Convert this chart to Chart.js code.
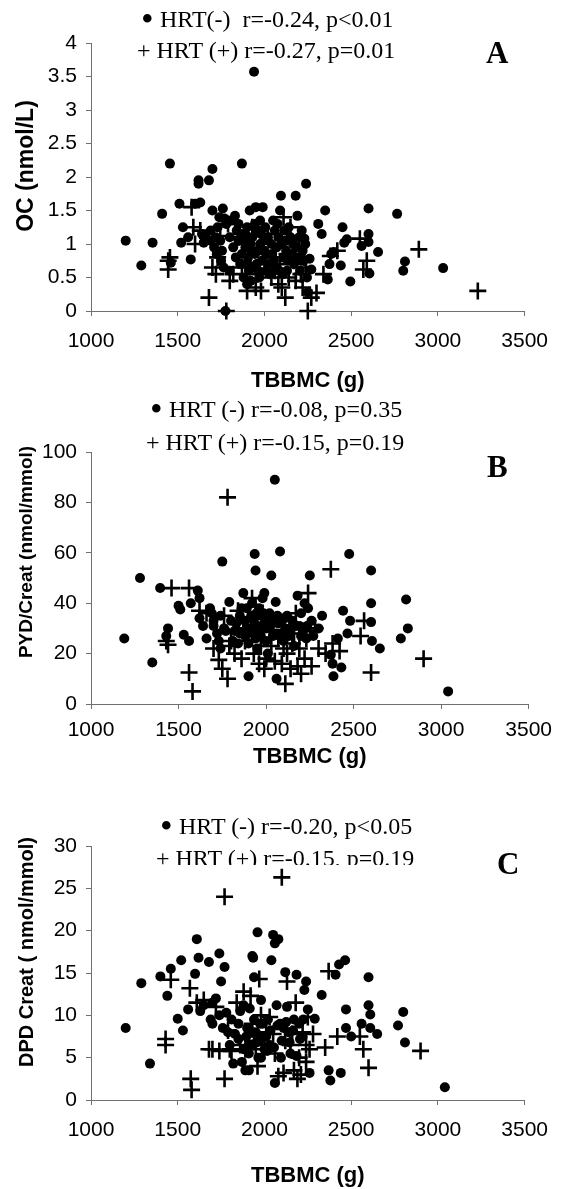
<!DOCTYPE html>
<html><head><meta charset="utf-8">
<script src="https://cdn.jsdelivr.net/npm/chart.js@4.4.0/dist/chart.umd.min.js"></script>
<style>
html,body{margin:0;padding:0;background:#fff;}
body{width:561px;height:1189px;position:relative;overflow:hidden;}
canvas{position:absolute;left:0;}
.leg{position:absolute;font-family:"Liberation Serif","Times New Roman",serif;font-size:24px;line-height:24px;white-space:pre;color:#000;}
.bul{display:inline-block;width:12px;font-size:36px;line-height:0;position:relative;top:4px;left:-1px;}
.clip{position:absolute;overflow:hidden;left:0;width:561px;}
.let{position:absolute;font-family:"Liberation Serif","Times New Roman",serif;font-weight:bold;font-size:31px;line-height:30px;color:#000;}
</style></head><body>
<canvas id="cA" width="561" height="400" style="top:0px"></canvas>
<canvas id="cB" width="561" height="400" style="top:380px"></canvas>
<canvas id="cC" width="561" height="409" style="top:780px"></canvas>
<div id="legends"></div>
<script>
// ---------- data ----------
const xTicks = [1000, 1500, 2000, 2500, 3000, 3500];
const yTicksA = [0, 0.5, 1, 1.5, 2, 2.5, 3, 3.5, 4];
const yTicksB = [0, 20, 40, 60, 80, 100];
const yTicksC = [0, 5, 10, 15, 20, 25, 30];
const xTitle = "TBBMC (g)";
const yTitleA = "OC (nmol/L)";
const yTitleB = "PYD/Creat (nmol/mmol)";
const yTitleC = "DPD Creat ( nmol/mmol)";
const legendA = ["\u2022 HRT(-)  r=-0.24, p<0.01", "+ HRT (+) r=-0.27, p=0.01"];
const legendB = ["\u2022 HRT (-) r=-0.08, p=0.35", "+ HRT (+) r=-0.15, p=0.19"];
const legendC = ["\u2022 HRT (-) r=-0.20, p<0.05", "+ HRT (+) r=-0.15, p=0.19"];
const panelLetters = ["A", "B", "C"];

// Panel A: OC (nmol/L) vs TBBMC
const ocHrtNeg = [[1200,1.05],[1290,0.68],[1355,1.02],[1410,1.45],[1455,2.2],[1460,0.72],[1510,1.6],[1530,1.25],[1520,1.02],[1560,1.1],[1575,0.77],[1600,1.6],[1620,1.95],[1620,1.9],[1630,1.62],[1640,1.15],[1650,1.02],[1680,1.95],[1690,1.2],[1700,2.12],[1700,1.5],[1720,1.1],[1740,1.4],[1750,0.75],[1755,0.9],[1760,1.53],[1765,0.65],[1770,1.38],[1775,0.0],[1780,1.3],[1800,1.1],[1830,1.42],[1850,1.3],[1860,0.7],[1870,2.2],[1880,1.05],[1890,0.95],[1900,1.25],[1910,0.6],[1915,1.5],[1920,0.45],[1930,1.1],[1940,3.57],[1945,0.85],[1950,1.55],[1955,0.7],[1960,1.2],[1970,0.5],[1975,1.0],[1980,1.15],[1990,1.55],[2000,0.9],[2010,0.6],[2020,1.1],[2030,0.55],[2050,1.35],[2055,0.75],[2060,1.2],[2070,0.95],[2090,1.5],[2095,1.72],[2100,1.0],[2110,0.8],[2120,1.05],[2130,0.6],[2150,1.1],[2160,0.85],[2180,1.72],[2190,1.42],[2200,1.1],[2210,0.75],[2220,0.9],[2230,1.08],[2240,1.9],[2245,0.5],[2250,0.28],[2260,0.78],[2270,0.62],[2310,1.3],[2330,1.15],[2350,1.5],[2365,0.47],[2375,0.7],[2385,0.85],[2400,0.88],[2440,0.68],[2450,1.25],[2460,1.02],[2475,1.07],[2495,0.44],[2560,0.97],[2600,1.53],[2600,1.15],[2600,1.03],[2605,0.56],[2655,0.88],[2765,1.45],[2800,0.6],[2810,0.74],[3030,0.64],[1820,0.95],[1840,1.2],[1870,0.85],[1890,1.15],[1905,0.8],[1920,1.0],[1935,0.65],[1960,0.9],[1985,0.75],[1995,1.05],[2015,0.85],[2040,1.0],[2065,0.65],[2080,1.1],[2105,0.55],[2125,0.9],[2140,1.25],[2170,0.7],[2185,0.95],[2205,0.6],[2225,0.75],[2235,1.0],[1730,1.25],[1710,0.95],[1745,1.05],[1660,1.1],[1800,0.6],[1850,1.05],[1880,0.5],[1900,0.4],[1810,1.35],[1835,0.8],[1865,1.15],[1895,0.7],[1925,0.9],[1945,1.3],[1965,0.6],[1975,1.35],[2005,1.25],[2025,0.7],[2045,0.85],[2075,1.3],[2085,0.6],[2115,1.2],[2135,0.75],[2165,1.0],[2195,0.8],[2215,1.2],[1690,1.05],[1725,0.85]];
const ocHrtPos = [[1445,0.75],[1445,0.62],[1455,0.8],[1580,1.55],[1590,1.25],[1600,1.0],[1630,1.2],[1680,0.2],[1700,0.65],[1720,0.55],[1730,0.8],[1745,1.12],[1780,0.0],[1790,1.3],[1800,0.45],[1820,0.55],[1850,1.1],[1880,1.0],[1900,0.3],[1920,0.7],[1930,1.25],[1950,0.35],[1980,0.3],[2000,0.75],[2020,1.15],[2050,0.8],[2060,0.6],[2080,0.4],[2100,0.35],[2110,1.4],[2120,0.2],[2140,0.5],[2150,1.25],[2170,0.75],[2200,0.95],[2210,0.55],[2220,0.35],[2240,0.65],[2250,0.0],[2270,0.2],[2300,0.27],[2340,0.55],[2380,0.82],[2420,0.9],[2550,1.08],[2570,0.62],[2590,0.75],[2890,0.92],[3230,0.3],[1960,0.55],[2040,0.5],[2090,0.7],[2130,0.85],[1870,0.65],[2180,0.45],[2230,0.8],[1990,0.85]];

// Panel B: PYD/Creat vs TBBMC
const pydHrtNeg = [[1190,26],[1280,50],[1350,16.5],[1395,46],[1440,30],[1430,27],[1500,39],[1510,37.5],[1530,27.5],[1560,25],[1570,40],[1610,45],[1620,42],[1620,34],[1640,31],[1660,26],[1680,38],[1690,36],[1700,31],[1720,28],[1740,22],[1750,56.5],[1760,30],[1770,29],[1790,40.5],[1810,25],[1830,32],[1850,35],[1870,44],[1880,27],[1890,38],[1900,11],[1910,30],[1920,40],[1930,33],[1935,59.5],[1940,53],[1945,36],[1960,29],[1970,35],[1980,42],[1990,44],[2000,30],[2010,20],[2020,36],[2030,51],[2040,27],[2050,89],[2055,40.5],[2060,10],[2070,32],[2080,60.5],[2090,33],[2100,25],[2120,35],[2140,30],[2160,23],[2180,43],[2200,36],[2210,29],[2220,40],[2230,26],[2240,38],[2250,51],[2270,27],[2300,30],[2320,35],[2370,19.5],[2380,16],[2385,11],[2410,26],[2430,14.5],[2440,37],[2465,28],[2480,33],[2475,59.5],[2600,53],[2600,40],[2600,32.5],[2605,25],[2650,22],[2770,26],[2800,41.5],[2810,30],[3040,5],[1850,28],[1900,24],[1950,22],[1990,32],[2060,28],[2110,30],[2150,33],[1960,38],[1940,26],[1880,33],[2000,25],[1700,33],[1740,35],[2190,31],[2260,33],[1730,25],[1800,33],[1820,29],[1840,24],[1860,38],[1890,30],[1915,35],[1925,28],[1950,31],[1970,27],[1985,36],[2005,34],[2025,31],[2045,33],[2065,35],[2085,28],[2105,34],[2130,27],[2170,31],[2200,27],[2235,31]];
const pydHrtPos = [[1430,25],[1440,23.5],[1460,46],[1560,46],[1560,12.5],[1580,5],[1620,37],[1660,36],[1700,22],[1730,17.5],[1750,14],[1760,35],[1780,82],[1780,10],[1790,23],[1820,20],[1840,37],[1860,18],[1880,25],[1900,28],[1920,42],[1940,39],[1960,16],[1970,23],[2000,18],[2030,23],[2050,17],[2070,26],[2090,16],[2110,8],[2120,20],[2150,24],[2170,36],[2180,15],[2190,22],[2200,12],[2220,18],[2240,44],[2250,29],[2260,15],[2300,22],[2340,20],[2370,53.5],[2380,24],[2420,21],[2540,27],[2560,33],[2600,12.5],[2900,18],[1800,25],[1870,30],[1930,20],[1990,14],[2020,29],[2140,14],[2230,26],[2280,30],[2100,22],[2160,28]];

// Panel C: DPD Creat vs TBBMC
const dpdHrtNeg = [[1200,8.5],[1290,13.8],[1340,4.3],[1400,14.6],[1440,12.3],[1460,15.5],[1500,9.6],[1520,16.5],[1530,8.2],[1560,10.7],[1600,14.9],[1610,19],[1620,16.8],[1630,10.5],[1650,11.2],[1680,16.3],[1690,9.5],[1700,9],[1720,12],[1740,17.3],[1750,14],[1760,8.5],[1770,15.7],[1780,10.3],[1790,8],[1800,6.5],[1820,4.3],[1850,7.2],[1880,11.2],[1890,3.5],[1910,3.5],[1915,10.8],[1930,17],[1935,16.8],[1940,14.5],[1950,8],[1960,19.8],[1965,5],[1980,11.8],[1990,9],[2000,6],[2010,7.5],[2040,16.5],[2050,19.5],[2060,18.5],[2060,2],[2080,19],[2070,11.2],[2090,9],[2120,15.1],[2130,11],[2140,8],[2170,9.5],[2185,14.8],[2200,9],[2220,7.5],[2230,13],[2240,14],[2250,10.7],[2260,3.2],[2290,9.6],[2330,12.4],[2370,3.5],[2380,2.3],[2410,14.8],[2430,16],[2440,3.2],[2465,16.5],[2470,10.7],[2470,8.5],[2500,7.5],[2560,9],[2600,11.2],[2600,14.5],[2610,10.1],[2610,8.5],[2650,7.8],[2770,8.8],[2800,10.4],[2810,6.8],[3040,1.5],[1850,9],[1880,6],[1900,8.5],[1920,6.5],[1970,7],[2030,6.5],[2100,7],[2150,5.5],[2020,9.5],[1940,9.5],[1980,5],[2110,8.5],[1870,4.5],[1700,11.5],[1740,10],[1810,9.5],[1830,7.8],[1860,10.5],[1895,7.5],[1910,5.5],[1930,8],[1955,6.8],[1975,9],[1995,7.5],[2015,5.8],[2035,8.2],[2055,6.2],[2075,8.8],[2095,5],[2125,9.2],[2145,6.8],[2165,8.2],[2185,5.2],[2205,7.2],[2225,9.5]];
const dpdHrtPos = [[1430,7.2],[1430,6.5],[1460,14.2],[1570,13.2],[1575,2.5],[1580,1.2],[1610,11.5],[1650,11.8],[1680,6],[1700,6],[1720,11],[1740,5.8],[1770,24],[1770,2.5],[1790,8.2],[1810,5.8],[1840,11.5],[1860,6.5],[1880,12.8],[1900,7.5],[1920,12.3],[1930,9],[1950,6],[1960,4],[1970,14.3],[1980,10],[2000,6.5],[2030,9.8],[2050,7.8],[2080,2.8],[2100,26.3],[2110,3.2],[2130,14],[2150,6.5],[2170,3.5],[2180,11.5],[2190,2.5],[2200,5],[2220,8],[2240,4.5],[2250,9.8],[2260,6],[2280,7.8],[2350,6.2],[2370,15.2],[2420,7.5],[2550,7.5],[2570,6],[2600,3.8],[2900,5.8],[1890,6],[1940,7],[2010,8],[2060,5.5],[2120,7],[2160,7.8],[2210,3],[2240,6.5],[1800,6]];

// ---------- drawing ----------
const AXIS = '#707070';
const SANS = '"Liberation Sans", Arial, sans-serif';

function toPts(arr){ return arr.map(p => ({x: p[0], y: p[1]})); }

// draws the rotated y-axis title centred on a given point
const yTitlePlugin = {
  id: 'yTitle',
  afterDraw(chart, args, o){
    const ctx = chart.ctx;
    ctx.save();
    ctx.translate(o.x, o.cy);
    ctx.rotate(-Math.PI/2);
    ctx.font = 'bold ' + o.size + 'px ' + SANS;
    ctx.fillStyle = '#000';
    ctx.textAlign = 'center';
    ctx.textBaseline = 'middle';
    ctx.fillText(o.text, 0, 0);
    ctx.restore();
  }
};

function makeChart(id, neg, pos, yTicks, yTitle, cfg){
  new Chart(document.getElementById(id), {
    type: 'scatter',
    plugins: [yTitlePlugin],
    data: { datasets: [
      { data: toPts(pos), pointStyle: 'cross', pointRadius: 8.5, borderColor: '#000', borderWidth: 2.6, backgroundColor: '#000', order: 0, clip: false },
      { data: toPts(neg), pointStyle: 'circle', pointRadius: 5, backgroundColor: '#000', borderWidth: 0, order: 1, clip: false }
    ]},
    options: {
      responsive: false, animation: false, devicePixelRatio: 1,
      layout: { padding: { top: cfg.top, right: 30, left: 0, bottom: 0 } },
      plugins: { legend: { display: false }, tooltip: { enabled: false },
        yTitle: { text: yTitle, x: 27, cy: cfg.ytCy, size: cfg.ytSize } },
      scales: {
        x: {
          type: 'linear', min: xTicks[0], max: xTicks[xTicks.length-1],
          afterBuildTicks: s => { s.ticks = xTicks.map(v => ({value: v})); },
          afterFit: s => { s.height = cfg.xH; },
          grid: { drawOnChartArea: false, drawTicks: true, tickLength: 5, color: AXIS, lineWidth: 1 },
          border: { display: true, color: AXIS, width: 1 },
          ticks: { color: '#000', padding: cfg.xPad, font: { family: SANS, size: 21 }, maxRotation: 0, autoSkip: false, callback: v => String(v) },
          title: { display: true, text: xTitle, color: '#000', font: { family: SANS, size: 22, weight: 'bold' }, padding: { top: 0, bottom: cfg.xtPad } }
        },
        y: {
          type: 'linear', min: yTicks[0], max: yTicks[yTicks.length-1],
          afterBuildTicks: s => { s.ticks = yTicks.map(v => ({value: v})); },
          afterFit: s => { s.width = 91; },
          grid: { drawOnChartArea: false, drawTicks: true, tickLength: 5, color: AXIS, lineWidth: 1 },
          border: { display: true, color: AXIS, width: 1 },
          ticks: { color: '#000', padding: 9, font: { family: SANS, size: 21 }, autoSkip: false, callback: v => String(v) },
          title: { display: false }
        }
      }
    }
  });
}

makeChart('cA', ocHrtNeg, ocHrtPos, yTicksA, yTitleA, { top: 43, xH: 89, xPad: 13, xtPad: 6, ytCy: 166, ytSize: 23 });
makeChart('cB', pydHrtNeg, pydHrtPos, yTicksB, yTitleB, { top: 72, xH: 76, xPad: 9, xtPad: 10, ytCy: 172, ytSize: 19 });
makeChart('cC', dpdHrtNeg, dpdHrtPos, yTicksC, yTitleC, { top: 66, xH: 89, xPad: 13, xtPad: 0, ytCy: 172, ytSize: 20 });

// legend texts and panel letters
const L = document.getElementById('legends');
function addText(cls, text, left, top, clipH){
  const d = document.createElement('div');
  d.className = cls;
  if (text.charAt(0) === '\u2022'){
    const b = document.createElement('span');
    b.className = 'bul'; b.textContent = '\u2022';
    d.appendChild(b);
    d.appendChild(document.createTextNode(text.slice(1)));
  } else {
    d.textContent = text;
  }
  if (clipH){
    const c = document.createElement('div');
    c.className = 'clip'; c.style.top = top + 'px'; c.style.height = clipH + 'px';
    d.style.left = left + 'px'; d.style.top = '0px';
    c.appendChild(d); L.appendChild(c);
  } else {
    d.style.left = left + 'px'; d.style.top = top + 'px';
    L.appendChild(d);
  }
}
addText('leg', legendA[0], 142, 7);
addText('leg', legendA[1], 137, 38);
addText('leg', legendB[0], 151, 397);
addText('leg', legendB[1], 146, 430);
addText('leg', legendC[0], 161, 814);
addText('leg', legendC[1], 156, 846, 19);
addText('let', panelLetters[0], 486, 38);
addText('let', panelLetters[1], 487, 452);
addText('let', panelLetters[2], 497, 849);
</script>
</body></html>
